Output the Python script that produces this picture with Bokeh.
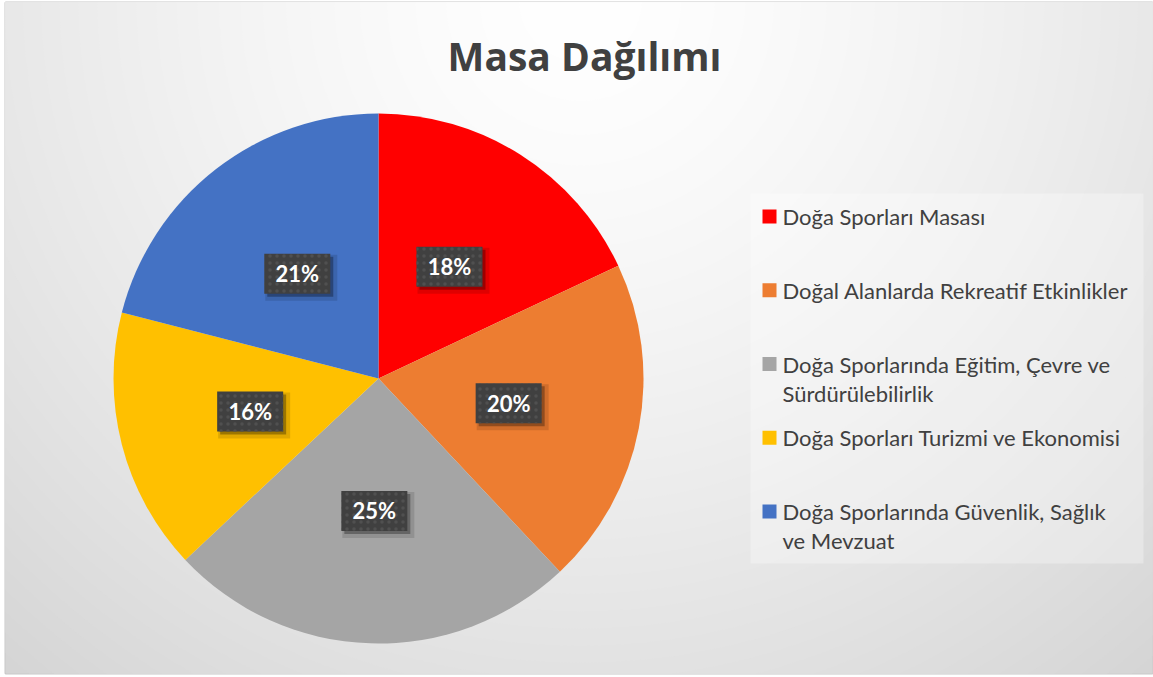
import math
from bokeh.plotting import figure
from bokeh.models import Range1d, ColumnDataSource
from bokeh.core.properties import value
from bokeh.embed import file_html
from bokeh.resources import INLINE

# ---------------- data ----------------
title = "Masa Dağılımı"
categories = [
    "Doğa Sporları  Masası",
    "Doğal Alanlarda Rekreatif Etkinlikler",
    "Doğa Sporlarında Eğitim, Çevre ve\nSürdürülebilirlik",
    "Doğa Sporları Turizmi ve Ekonomisi",
    "Doğa Sporlarında Güvenlik, Sağlık\nve Mevzuat",
]
shares = [18, 20, 25, 16, 21]
colors = ["#FF0000", "#ED7D31", "#A5A5A5", "#FFC000", "#4472C4"]

# ---------------- layout ----------------
PAGE_W, PAGE_H = 1153, 677
L, T, Rr, B = 5, 2, 1152, 673   # chart-area box on the page


def Y(py):
    return PAGE_H - py


p = figure(width=PAGE_W, height=PAGE_H, x_range=Range1d(L, Rr), y_range=Range1d(Y(B), Y(T)),
           output_backend="svg", toolbar_location=None,
           min_border_left=L, min_border_top=T, min_border_right=PAGE_W - Rr,
           min_border_bottom=PAGE_H - B,
           x_axis_type=None, y_axis_type=None)
p.grid.visible = False
p.outline_line_color = "#c8c8c8"
p.outline_line_width = 2
p.background_fill_color = "#d5d5d5"
p.border_fill_color = "white"

# radial background gradient (concentric rings, one per grey level)
gcx, gcy = 580, Y(0)
gx, gy, gr, gc = [], [], [], []
for g in range(213, 256):
    r = 885 * ((255 - g) / 42) ** (1 / 1.4)
    if r <= 0:
        continue
    gx.append(gcx); gy.append(gcy); gr.append(r)
    gc.append("#%02x%02x%02x" % (g, g, g))
p.circle(x=gx, y=gy, radius=gr, fill_color=gc, line_color=None)

# ---------------- pie ----------------
cx, cy, R = 378, Y(378), 265
total = sum(shares)
starts, ends, mids = [], [], []
acc = 0
for v in shares:
    a0 = math.pi / 2 - 2 * math.pi * acc / total
    a1 = math.pi / 2 - 2 * math.pi * (acc + v) / total
    starts.append(a0); ends.append(a1); mids.append((a0 + a1) / 2)
    acc += v
src = ColumnDataSource(dict(start=starts, end=ends, color=colors))
p.wedge(x=cx, y=cy, radius=R, start_angle="start", end_angle="end", direction="clock",
        fill_color="color", line_color=None, source=src)

# data labels
lx = [cx + 0.5 * R * math.cos(m) for m in mids]
ly = [cy + 0.5 * R * math.sin(m) for m in mids]
lt = ["%d%%" % round(100 * v / total) for v in shares]
p.rect(x=[x + 4 for x in lx], y=[y - 4 for y in ly], width=72, height=46, fill_color="black",
       fill_alpha=0.12, line_color=None)
p.rect(x=[x + 3 for x in lx], y=[y - 3 for y in ly], width=66, height=40, fill_color="black",
       fill_alpha=0.3, line_color=None)
p.rect(x=lx, y=ly, width=66, height=40, fill_color="#404040", line_color=None,
       hatch_pattern="dot", hatch_color="#505050", hatch_scale=7, hatch_weight=2)
p.text(x=lx, y=ly, text=lt, text_align="center", text_baseline="middle",
       text_font=value("Lato"), text_font_style="bold", text_font_size="22px", text_color="white")

# ---------------- title ----------------
p.text(x=[584], y=[Y(55)], text=[title], text_align="center", text_baseline="middle",
       text_font=value("Open Sans"), text_font_style="bold", text_font_size="39px",
       text_color="#404040")

# ---------------- legend ----------------
p.rect(x=[(750 + 1143) / 2], y=[Y((193 + 563) / 2)], width=393, height=370,
       fill_color="white", fill_alpha=0.3, line_color=None)
first_y = 216
step = 73.75
line_h = 29
mx, my, tx, ty, tt = [], [], [], [], []
for i, lab in enumerate(categories):
    yy = first_y + i * step
    mx.append(769); my.append(Y(yy))
    for j, line in enumerate(lab.split("\n")):
        tx.append(782); ty.append(Y(yy + j * line_h)); tt.append(line)
p.rect(x=mx, y=my, width=14, height=14, fill_color=colors, line_color=None)
p.text(x=tx, y=ty, text=tt, text_align="left", text_baseline="middle",
       text_font=value("Lato"), text_font_size="22px", text_color="#404040")

open("out.html", "w").write(file_html(p, INLINE))
